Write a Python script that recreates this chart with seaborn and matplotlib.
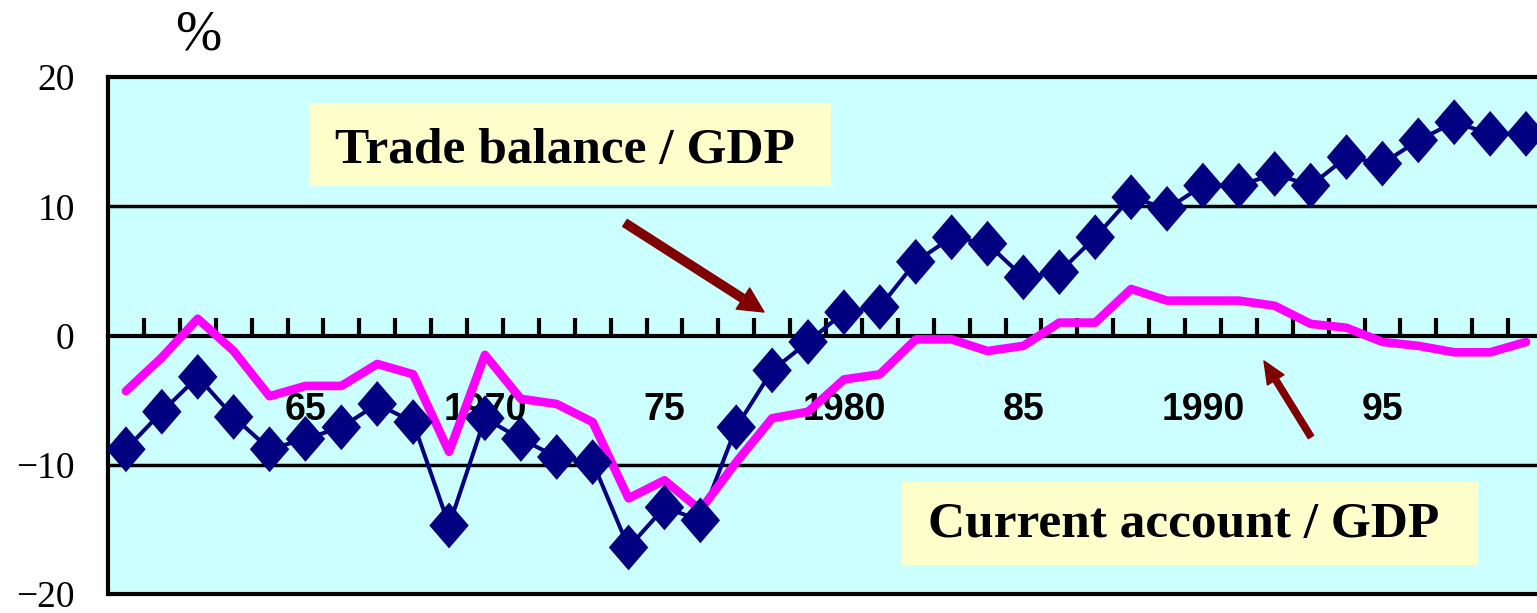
import numpy as np
import pandas as pd
import matplotlib
matplotlib.use('Agg')
import matplotlib.pyplot as plt
from matplotlib.patches import Rectangle
import seaborn as sns

# values (% of GDP)
years = list(range(1960, 2000))
trade_balance = [-8.8, -5.9, -3.2, -6.3, -8.8, -8.0, -7.1, -5.3, -6.7, -14.7,
                 -6.4, -8.0, -9.4, -9.8, -16.4, -13.3, -14.3, -7.1, -2.7, -0.5,
                 1.8, 2.2, 5.7, 7.6, 7.1, 4.5, 4.9, 7.6, 10.7, 9.8,
                 11.6, 11.6, 12.5, 11.6, 13.8, 13.3, 15.1, 16.5, 15.6, 15.6]
current_account = [-4.3, -1.7, 1.3, -1.2, -4.7, -3.9, -3.9, -2.2, -3.0, -9.0,
                   -1.5, -4.9, -5.3, -6.7, -12.6, -11.2, -13.5, -9.8, -6.4, -5.9,
                   -3.4, -3.0, -0.3, -0.3, -1.2, -0.8, 1.0, 1.0, 3.6, 2.7,
                   2.7, 2.7, 2.3, 0.9, 0.6, -0.5, -0.8, -1.3, -1.3, -0.5]
tick_years = [1965, 1970, 1975, 1980, 1985, 1990, 1995]
tick_labels = ['65', '1970', '75', '1980', '85', '1990', '95']
y_ticks = [-20, -10, 0, 10, 20]
y_labels = ['\u221220', '\u221210', '0', '10', '20']

df = pd.DataFrame({'year': years, 'tb': trade_balance, 'ca': current_account})

W, H = 1537, 613
sns.set_style('white')
plt.rcParams['font.family'] = ['Liberation Serif', 'DejaVu Serif']
plt.rcParams['text.color'] = 'black'
plt.rcParams['xtick.color'] = 'black'
plt.rcParams['ytick.color'] = 'black'

fig = plt.figure(figsize=(W / 100, H / 100), dpi=100)
ax = fig.add_axes([108 / W, 1 - 594 / H, 1436 / W, (594 - 77) / H])
ax.set_facecolor('#CCFFFF')

# gridlines and frame
for yv in (10, -10):
    ax.axhline(yv, color='black', lw=2.5, zorder=1)
ax.axhline(-20, color='black', lw=3, zorder=2, clip_on=False)

# tall diamond marker
diamond = [(0, -1), (0.86, 0), (0, 1), (-0.86, 0), (0, -1)]

sns.lineplot(data=df, x='year', y='tb', color='#000080', lw=2.9, ax=ax, zorder=3)
sns.lineplot(data=df, x='year', y='ca', color='#FF00FF', lw=6.2, ax=ax, zorder=4)
sns.scatterplot(data=df, x='year', y='tb', marker=diamond, s=33 ** 2,
                color='#000080', edgecolor='none', ax=ax, zorder=5)

ax.set_xlim(1959.5, 1999.5)
ax.set_ylim(-20, 20)
ax.set_xlabel('')
ax.set_ylabel('')

ax.spines['bottom'].set_position(('data', 0))
for side in ('bottom', 'top', 'left'):
    ax.spines[side].set_linewidth(3)
    ax.spines[side].set_color('black')
ax.spines['right'].set_visible(False)

ax.set_xticks(np.arange(1960.5, 1999, 1), minor=True)
ax.tick_params(axis='x', which='minor', bottom=True, direction='in', length=13,
               width=3, color='black')
ax.set_xticks(tick_years)
ax.set_xticklabels(tick_labels)
ax.tick_params(axis='x', which='major', bottom=True, length=0, pad=41,
               labelsize=27, labelcolor='black')
for lab in ax.get_xticklabels():
    lab.set_fontfamily(['Liberation Sans Narrow', 'Liberation Sans', 'DejaVu Sans'])
    lab.set_fontweight('bold')

ax.set_yticks(y_ticks)
ax.set_yticklabels(y_labels)
ax.tick_params(axis='y', left=True, length=0, pad=24, labelsize=27,
               labelcolor='black')

# label boxes
def px_box(x0, y0, x1, y1):
    return Rectangle((x0 / W, 1 - y1 / H), (x1 - x0) / W, (y1 - y0) / H,
                     transform=fig.transFigure, facecolor='#FFFFCC',
                     edgecolor='none', zorder=6)

ax.add_patch(px_box(310, 103, 831, 186))
ax.add_patch(px_box(901, 482, 1478, 565))
ax.text(565 / W, 1 - 163 / H, 'Trade balance / GDP', transform=fig.transFigure,
        ha='center', va='baseline', fontsize=37, fontweight='bold',
        color='black', zorder=7)
ax.text(1184 / W, 1 - 537 / H, 'Current account / GDP', transform=fig.transFigure,
        ha='center', va='baseline', fontsize=37, fontweight='bold',
        color='black', zorder=7)

# arrows
ax.annotate('', xy=(764, H - 312), xytext=(625, H - 223), xycoords='figure pixels',
            textcoords='figure pixels', zorder=7,
            arrowprops=dict(arrowstyle='simple,head_width=1.8,head_length=1.8,tail_width=0.6',
                            color='#800000', shrinkA=0, shrinkB=0, mutation_scale=10))
ax.annotate('', xy=(1264, H - 361), xytext=(1311, H - 437), xycoords='figure pixels',
            textcoords='figure pixels', zorder=7,
            arrowprops=dict(arrowstyle='simple,head_width=1.4,head_length=1.6,tail_width=0.45',
                            color='#800000', shrinkA=0, shrinkB=0, mutation_scale=10))

fig.text(198 / W, 1 - 35 / H, '%', ha='center', va='center', fontsize=40,
         color='black')

fig.savefig('out.png', dpi=100)
